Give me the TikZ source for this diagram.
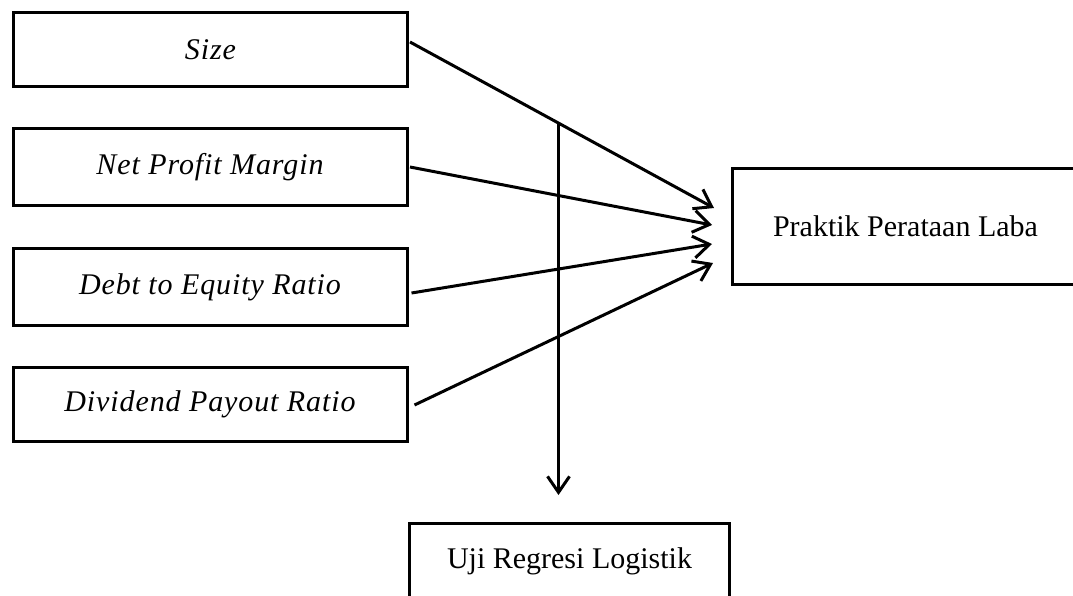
\documentclass[tikz,border=0pt]{standalone}
\usepackage{fontspec}
\setmainfont[ItalicFeatures={LetterSpace=3}]{Liberation Serif}
\usetikzlibrary{arrows.meta,calc}
\begin{document}
\begin{tikzpicture}[x=1pt,y=-1pt,
  box/.style={draw,line width=3pt,rectangle,inner sep=0pt,font=\fontsize{30}{36}\selectfont},
  conn/.style={line width=3pt,-{Straight Barb[length=16pt,width=22pt,line width=3pt]}}]
\useasboundingbox (0,0) rectangle (1073,595);
\clip (0,0) rectangle (1073,595);
\node[box,minimum width=394pt,minimum height=74pt] (size) at (210.5,49.5) {\itshape Size};
\node[box,minimum width=394pt,minimum height=77pt] (npm) at (210,167) {\itshape Net Profit Margin};
\node[box,minimum width=394pt,minimum height=77pt] (der) at (210,287) {\itshape Debt to Equity Ratio};
\node[box,minimum width=394pt,minimum height=74pt] (dpr) at (210,404.5) {\itshape Dividend Payout Ratio};
\node[box,minimum width=346pt,minimum height=116pt] (prak) at (905.5,226.5) {Praktik Perataan Laba};
\node[box,minimum width=320pt,minimum height=75pt] (uji) at (569.5,561) {Uji Regresi Logistik};
\coordinate (s1) at ($(size.east)+(1,-7.5)$);
\coordinate (s2) at ($(npm.east)+(1.5,0)$);
\coordinate (s3) at ($(der.east)+(3,6)$);
\coordinate (s4) at ($(dpr.east)+(6,0.5)$);
\coordinate (t1) at ($(prak.west)+(-17,-18.5)$);
\coordinate (t2) at ($(prak.west)+(-19,-1.5)$);
\coordinate (t3) at ($(prak.west)+(-19,17.5)$);
\coordinate (t4) at ($(prak.west)+(-18,36.5)$);
\draw[conn] (s1) -- (t1);
\draw[conn] (s2) -- (t2);
\draw[conn] (s3) -- (t3);
\draw[conn] (s4) -- (t4);
\coordinate (split) at ($(s1)!0.4885!(t1)$);
\coordinate (down) at ($(split |- uji.north)+(0,-27)$);
\draw[conn] (split) -- (down);
\end{tikzpicture}
\end{document}
